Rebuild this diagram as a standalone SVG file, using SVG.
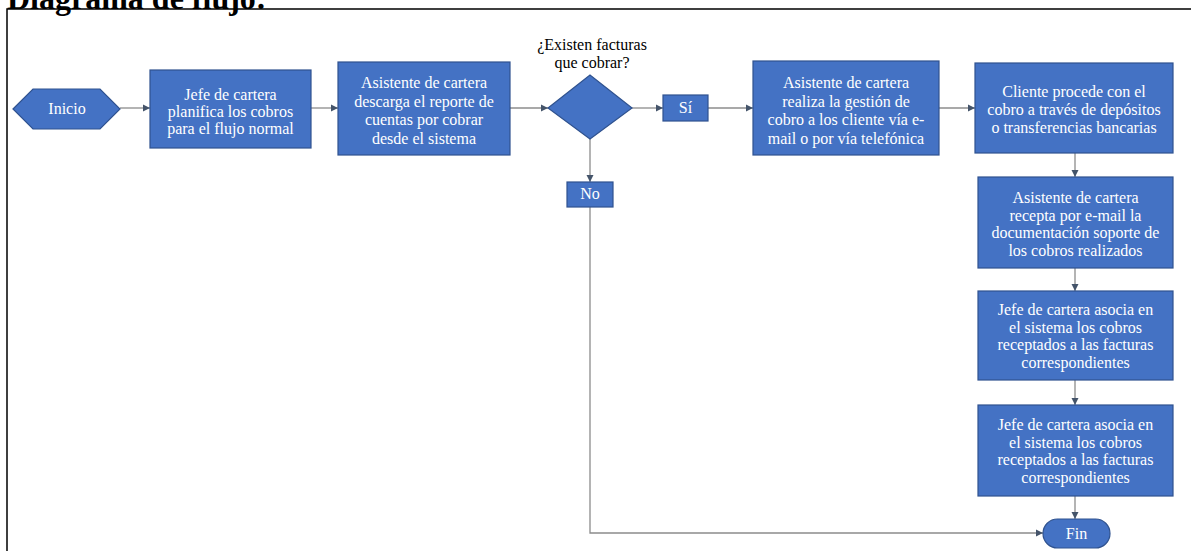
<svg xmlns="http://www.w3.org/2000/svg" width="1191" height="551" viewBox="0 0 1191 551">
<style>
.box{fill:#4472C4;stroke:#2F528F;stroke-width:1.2}
.t{font-family:"Liberation Serif",serif;font-size:16px;fill:#ffffff;text-anchor:middle}
.q{font-family:"Liberation Serif",serif;font-size:16px;fill:#000000;text-anchor:middle}
.c{fill:none;stroke:#8c8c8c;stroke-width:1.3}
.title{font-family:"Liberation Serif",serif;font-size:32px;font-weight:bold;fill:#000000}
</style>
<defs>
<marker id="ah" markerWidth="8" markerHeight="8" refX="7" refY="4" orient="auto" markerUnits="userSpaceOnUse">
<path d="M0,0.5 L7,4 L0,7.5 Z" fill="#44546A"/>
</marker>
</defs>
<rect x="0" y="0" width="1191" height="551" fill="#ffffff"/>
<g id="frame">
<path d="M7,551 L7,9 L1191,9" fill="none" stroke="#000000" stroke-width="1.5"/>
</g>
<text class="title" x="7" y="9">Diagrama de flujo:</text>
<g id="connectors">
<line class="c" x1="120" y1="108" x2="150" y2="108" marker-end="url(#ah)"/>
<line class="c" x1="311" y1="108" x2="338" y2="108" marker-end="url(#ah)"/>
<line class="c" x1="510" y1="108" x2="548" y2="108" marker-end="url(#ah)"/>
<line class="c" x1="632" y1="108" x2="663" y2="108" marker-end="url(#ah)"/>
<line class="c" x1="708" y1="108" x2="753" y2="108" marker-end="url(#ah)"/>
<line class="c" x1="939" y1="108" x2="975" y2="108" marker-end="url(#ah)"/>
<line class="c" x1="590" y1="139" x2="590" y2="182" marker-end="url(#ah)"/>
<polyline class="c" points="590,207 590,533 1043,533" marker-end="url(#ah)"/>
<line class="c" x1="1075" y1="153" x2="1075" y2="177" marker-end="url(#ah)"/>
<line class="c" x1="1075" y1="268" x2="1075" y2="291" marker-end="url(#ah)"/>
<line class="c" x1="1075" y1="380" x2="1075" y2="405" marker-end="url(#ah)"/>
<line class="c" x1="1075" y1="496" x2="1075" y2="519" marker-end="url(#ah)"/>
</g>
<g id="inicio">
<polygon class="box" points="13,109 33,89 100,89 120,109 100,129 33,129"/>
<text class="t" x="67" y="114">Inicio</text>
</g>
<g id="planifica">
<rect class="box" x="150" y="70" width="161" height="78"/>
<text class="t" x="230.5" y="100">Jefe de cartera</text>
<text class="t" x="230.5" y="117">planifica los cobros</text>
<text class="t" x="230.5" y="134">para el flujo normal</text>
</g>
<g id="descarga">
<rect class="box" x="338" y="62" width="172" height="93"/>
<text class="t" x="424" y="88">Asistente de cartera</text>
<text class="t" x="424" y="106.5">descarga el reporte de</text>
<text class="t" x="424" y="125">cuentas por cobrar</text>
<text class="t" x="424" y="143.5">desde el sistema</text>
</g>
<g id="decision">
<text class="q" x="592" y="50">¿Existen facturas</text>
<text class="q" x="592" y="68">que cobrar?</text>
<polygon class="box" points="548,108 590,75 632,108 590,139"/>
</g>
<g id="si">
<rect class="box" x="663" y="95" width="45" height="26"/>
<text class="t" x="685.5" y="113">Sí</text>
</g>
<g id="no">
<rect class="box" x="567" y="182" width="46" height="25"/>
<text class="t" x="590" y="199">No</text>
</g>
<g id="gestion">
<rect class="box" x="753" y="61" width="186" height="94"/>
<text class="t" x="846" y="88">Asistente de cartera</text>
<text class="t" x="846" y="106.5">realiza la gestión de</text>
<text class="t" x="846" y="125">cobro a los cliente vía e-</text>
<text class="t" x="846" y="143.5">mail o por vía telefónica</text>
</g>
<g id="cliente">
<rect class="box" x="975" y="63" width="198" height="90"/>
<text class="t" x="1074" y="97">Cliente procede con el</text>
<text class="t" x="1074" y="115">cobro a través de depósitos</text>
<text class="t" x="1074" y="133">o transferencias bancarias</text>
</g>
<g id="recepta">
<rect class="box" x="978" y="177" width="195" height="91"/>
<text class="t" x="1075.5" y="203">Asistente de cartera</text>
<text class="t" x="1075.5" y="220.5">recepta por e-mail la</text>
<text class="t" x="1075.5" y="238">documentación soporte de</text>
<text class="t" x="1075.5" y="255.5">los cobros realizados</text>
</g>
<g id="asocia1">
<rect class="box" x="978" y="291" width="195" height="89"/>
<text class="t" x="1075.5" y="315">Jefe de cartera asocia en</text>
<text class="t" x="1075.5" y="332.5">el sistema los cobros</text>
<text class="t" x="1075.5" y="350">receptados a las facturas</text>
<text class="t" x="1075.5" y="367.5">correspondientes</text>
</g>
<g id="asocia2">
<rect class="box" x="978" y="405" width="195" height="91"/>
<text class="t" x="1075.5" y="430">Jefe de cartera asocia en</text>
<text class="t" x="1075.5" y="447.5">el sistema los cobros</text>
<text class="t" x="1075.5" y="465">receptados a las facturas</text>
<text class="t" x="1075.5" y="482.5">correspondientes</text>
</g>
<g id="fin">
<rect class="box" x="1043" y="519" width="67" height="29" rx="14.5" ry="14.5"/>
<text class="t" x="1076.5" y="539">Fin</text>
</g>
</svg>
